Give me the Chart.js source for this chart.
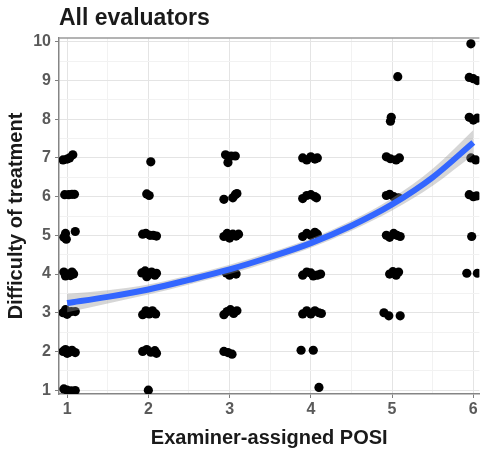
<!DOCTYPE html>
<html>
<head>
<meta charset="utf-8">
<script src="https://cdn.jsdelivr.net/npm/chart.js@4"></script>
<style>
  body { margin: 0; background: #fff; }
  canvas { display: block; }
</style>
</head>
<body>
<canvas id="mycanvas" width="484" height="455"></canvas>
<script>
// jittered points, one list per POSI value: [posi, difficulty]
var posi1 = [[0.95,6.95],[1.0,6.97],[1.03,7.0],[1.07,7.08],
  [0.97,6.05],[1.02,6.05],[1.06,6.06],[1.09,6.06],
  [0.96,4.95],[0.98,5.05],[0.99,4.9],[1.1,5.1],
  [0.96,4.05],[1.0,4.0],[1.04,3.96],[1.08,4.0],[0.98,3.95],[1.06,4.05],
  [0.95,3.0],[0.98,3.08],[1.0,2.96],[1.05,3.03],[1.1,3.03],
  [0.95,2.0],[0.98,2.05],[1.02,1.97],[1.06,2.03],[1.1,1.97],[1.0,1.95],
  [0.96,1.03],[1.0,1.0],[1.05,0.98],[1.1,0.99]];
var posi2 = [[2.03,6.9],
  [1.98,6.07],[2.01,6.03],
  [1.93,5.03],[1.97,5.05],[2.02,5.0],[2.06,5.0],[2.1,4.98],
  [1.92,4.03],[1.96,4.08],[2.0,3.98],[2.04,4.05],[2.08,3.97],[1.98,3.93],[2.1,4.02],
  [1.93,2.95],[1.97,3.05],[2.01,2.97],[2.05,3.05],[2.09,2.97],
  [1.93,2.0],[1.98,2.05],[2.03,1.98],[2.08,2.02],[2.1,1.95],
  [2.0,1.0]];
var posi3 = [[2.95,7.08],[2.98,6.88],[3.02,7.05],[3.07,7.05],
  [2.93,5.93],[3.04,5.97],[3.07,6.05],[3.09,6.08],
  [2.93,4.97],[2.97,5.05],[3.0,4.93],[3.04,5.03],[3.08,4.98],[3.11,5.03],
  [2.96,4.03],[3.0,3.97],[3.04,4.05],[3.08,4.0],
  [2.93,2.95],[2.97,3.03],[3.01,3.08],[3.05,2.98],[3.09,3.05],
  [2.93,2.0],[2.98,1.97],[3.03,1.93]];
var posi4 = [[3.9,7.0],[3.95,6.95],[4.0,7.03],[4.05,6.97],[4.08,7.0],
  [3.9,5.95],[3.95,6.03],[4.0,6.05],[4.05,6.0],[4.07,5.97],
  [3.9,4.97],[3.95,5.05],[4.0,5.0],[4.05,5.08],[4.08,5.03],
  [3.9,3.97],[3.95,4.05],[4.0,4.03],[4.03,3.95],[4.08,3.97],[4.12,4.0],
  [3.9,2.97],[3.95,3.05],[4.0,2.97],[4.05,3.05],[4.1,3.0],[4.13,2.98],
  [3.88,2.03],[4.03,2.03],
  [4.1,1.07]];
var posi5 = [[5.07,9.1],
  [4.98,7.95],[4.99,8.05],
  [4.93,7.03],[4.98,6.98],[5.05,6.95],[5.09,7.0],
  [4.93,6.03],[4.97,6.06],[5.02,6.0],[5.08,5.97],
  [4.93,5.0],[4.97,4.95],[5.02,5.05],[5.06,5.0],[5.1,4.97],
  [4.97,4.0],[5.01,4.06],[5.05,3.97],[5.08,4.05],
  [4.9,3.0],[4.96,2.92],[5.1,2.92]];
var posi6 = [[5.97,9.95],
  [5.95,9.08],[6.0,9.05],[6.05,9.0],
  [5.95,8.05],[6.0,7.98],[6.05,8.03],
  [5.97,7.0],[6.03,6.95],
  [5.95,6.05],[6.0,6.0],[6.04,6.02],
  [5.98,4.97],
  [5.92,4.02],[6.05,4.02]];

// smoothed fit and its band
var fitX    = [1, 1.5, 2, 2.5, 3, 3.5, 4, 4.5, 5, 5.5, 6];
var fitY    = [3.25, 3.41, 3.6, 3.85, 4.12, 4.44, 4.8, 5.25, 5.8, 6.5, 7.4];
var fitLow  = [3.01, 3.24, 3.47, 3.73, 4.0, 4.32, 4.68, 5.12, 5.64, 6.28, 7.08];
var fitHigh = [3.49, 3.58, 3.73, 3.97, 4.24, 4.56, 4.92, 5.38, 5.96, 6.72, 7.72];

var xTicks = [1, 1.5, 2, 2.5, 3, 3.5, 4, 4.5, 5, 5.5, 6];
var yTicks = [1, 1.5, 2, 2.5, 3, 3.5, 4, 4.5, 5, 5.5, 6, 6.5, 7, 7.5, 8, 8.5, 9, 9.5, 10];

var FONT = '"Liberation Sans", Arial, sans-serif';

function toXY(xs, ys) {
  return xs.map(function(x, i) { return {x: x, y: ys[i]}; });
}
var points = [].concat(posi1, posi2, posi3, posi4, posi5, posi6).map(function(p) {
  return {x: p[0], y: p[1]};
});

var gridColor = function(c) {
  return Number.isInteger(c.tick.value) ? '#e4e4e4' : '#f2f2f2';
};
var tickColor = function(c) {
  return Number.isInteger(c.tick.value) ? '#7f7f7f' : 'rgba(0,0,0,0)';
};
var label = function(v) { return Number.isInteger(v) ? v : ''; };

var frame = {
  id: 'frame',
  afterDraw: function(chart) {
    var ctx = chart.ctx, a = chart.chartArea;
    ctx.save();
    ctx.strokeStyle = '#9a9a9a';
    ctx.lineWidth = 1.5;
    ctx.beginPath();
    ctx.moveTo(a.left, a.top);
    ctx.lineTo(a.right, a.top);
    ctx.stroke();
    ctx.font = 'bold 23px ' + FONT;
    ctx.fillStyle = '#1a1a1a';
    ctx.textBaseline = 'alphabetic';
    ctx.fillText('All evaluators', a.left, 25);
    ctx.restore();
  }
};

var ctx = document.getElementById('mycanvas');
var chart = new Chart(ctx, {
  type: 'line',
  data: {
    datasets: [
      {
        data: toXY(fitX, fitY),
        borderColor: '#3366ff',
        borderWidth: 6,
        pointRadius: 0,
        cubicInterpolationMode: 'monotone',
        fill: false
      },
      {
        data: toXY(fitX, fitHigh),
        borderWidth: 0,
        borderColor: 'rgba(0,0,0,0)',
        backgroundColor: 'rgba(153,153,153,0.4)',
        pointRadius: 0,
        cubicInterpolationMode: 'monotone',
        fill: '+1'
      },
      {
        data: toXY(fitX, fitLow),
        borderWidth: 0,
        borderColor: 'rgba(0,0,0,0)',
        pointRadius: 0,
        cubicInterpolationMode: 'monotone',
        fill: false
      },
      {
        data: points,
        showLine: false,
        pointRadius: 4.6,
        pointBackgroundColor: '#000',
        pointBorderWidth: 0,
        fill: false
      }
    ]
  },
  options: {
    responsive: false,
    animation: false,
    events: [],
    layout: { padding: { top: 38, right: 0, left: 0, bottom: 0 } },
    plugins: { legend: { display: false }, tooltip: { enabled: false } },
    scales: {
      x: {
        type: 'linear',
        min: 0.9,
        max: 6.075,
        afterBuildTicks: function(s) { s.ticks = xTicks.map(function(v) { return {value: v}; }); },
        afterFit: function(s) { s.height = 61; },
        grid: { color: gridColor, tickColor: tickColor, tickLength: 4, lineWidth: 1 },
        border: { color: '#858585', width: 1.5 },
        ticks: { callback: label, color: '#5a5a5a', font: { family: FONT, size: 16, weight: 'bold' }, padding: 2, maxRotation: 0, autoSkip: false },
        title: { display: true, text: 'Examiner-assigned POSI', color: '#1a1a1a', font: { family: FONT, size: 20, weight: 'bold' }, padding: { top: 0, bottom: 5 } }
      },
      y: {
        type: 'linear',
        min: 0.9,
        max: 10.1,
        afterBuildTicks: function(s) { s.ticks = yTicks.map(function(v) { return {value: v}; }); },
        afterFit: function(s) { s.width = 59; },
        grid: { color: gridColor, tickColor: tickColor, tickLength: 4, lineWidth: 1 },
        border: { color: '#858585', width: 1.5 },
        ticks: { callback: label, color: '#5a5a5a', font: { family: FONT, size: 16, weight: 'bold' }, padding: 4, autoSkip: false },
        title: { display: true, text: 'Difficulty of treatment', color: '#1a1a1a', font: { family: FONT, size: 20, weight: 'bold' }, padding: { top: 4, bottom: 0 } }
      }
    }
  },
  plugins: [frame]
});
</script>
</body>
</html>
